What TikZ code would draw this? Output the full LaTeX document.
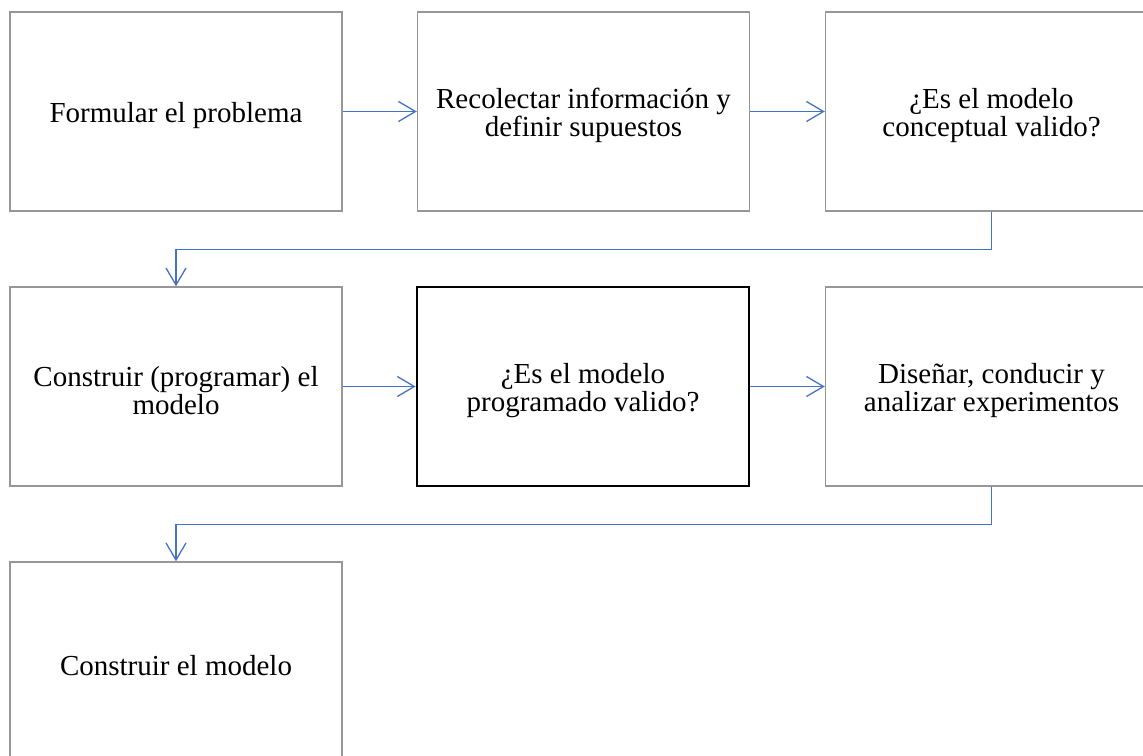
\documentclass[tikz,border=0pt]{standalone}
\usepackage{fontspec}
\setmainfont{Liberation Serif}
\usetikzlibrary{arrows.meta}
\definecolor{boxgray}{RGB}{150,150,150}
\definecolor{arrblue}{RGB}{68,114,196}
\tikzset{
  stepbox/.style={draw=boxgray, line width=1.5pt, minimum width=332pt, minimum height=199pt, inner sep=0pt},
  thickbox/.style={stepbox, draw=black, line width=2.8pt},
  boxtext/.style={inner sep=0pt, align=center, font=\fontsize{29}{28}\selectfont, text=black},
  flow/.style={draw=arrblue, line width=1.3pt, -{Straight Barb[length=17pt,width=20pt,line width=1.3pt]}}
}
\begin{document}
\begin{tikzpicture}[x=1pt,y=-1pt]
\useasboundingbox (0,0) rectangle (1143,755);
\clip (0,0) rectangle (1143,755);
\node[stepbox] (b1) at (176,111.5) {};
\node[stepbox] (b2) at (583.5,111.5) {};
\node[stepbox] (b3) at (991.5,111.5) {};
\node[stepbox] (b4) at (176,386.5) {};
\node[thickbox] (b5) at (583,386.5) {};
\node[stepbox] (b6) at (991.5,386.5) {};
\node[stepbox] (b7) at (176,661.5) {};
\node[boxtext] (t1) at ([yshift=-4pt]b1.center) {Formular el problema};
\node[boxtext] (t2) at ([yshift=-4pt]b2.center) {Recolectar información y\\definir supuestos};
\node[boxtext] (t3) at ([yshift=-4pt]b3.center) {¿Es el modelo\\conceptual valido?};
\node[boxtext] (t4) at ([yshift=-4pt]b4.center) {Construir (programar) el\\modelo};
\node[boxtext] (t5) at ([yshift=-4pt]b5.center) {¿Es el modelo\\programado valido?};
\node[boxtext] (t6) at ([yshift=-4pt]b6.center) {Diseñar, conducir y\\analizar experimentos};
\node[boxtext] (t7) at ([yshift=-4pt]b7.center) {Construir el modelo};
\draw[flow] (b1.east) -- (b2.west);
\draw[flow] (b2.east) -- (b3.west);
\draw[flow] (b4.east) -- (b5.west);
\draw[flow] (b5.east) -- (b6.west);
\draw[flow] (b3.south) -- ++(0,38) -| (b4.north);
\draw[flow] (b6.south) -- ++(0,38) -| (b7.north);
\end{tikzpicture}
\end{document}
